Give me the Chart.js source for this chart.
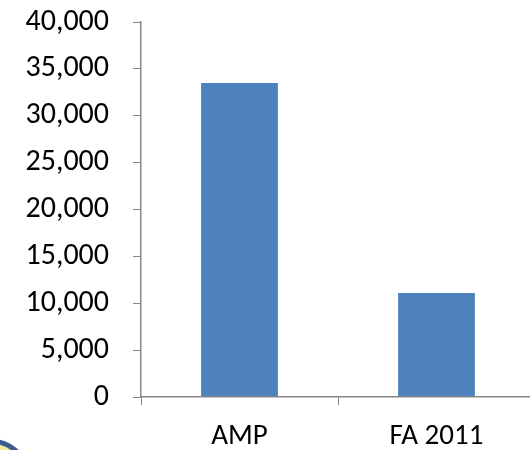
<!DOCTYPE html>
<html>
<head>
<meta charset="utf-8">
<script src="https://cdn.jsdelivr.net/npm/chart.js@4"></script>
<style>
  html, body { margin: 0; padding: 0; background: #fff; overflow: hidden; }
</style>
</head>
<body>
<canvas id="myChart" width="536" height="450"></canvas>
<script>
// chart data
var categories = ["AMP", "FA 2011"];
var values = [33600, 11200];
var yMin = 0, yMax = 40000, yStep = 5000;

var axisGray = "#868686";
var fontFamily = "Carlito, Calibri, 'Open Sans', sans-serif";

// little logo fragment in the bottom-left corner
var cornerLogo = {
  id: "cornerLogo",
  afterDraw: function(chart) {
    var c = chart.ctx;
    c.save();
    c.beginPath();
    c.arc(-10, 480, 39, 0, Math.PI * 2);
    c.fillStyle = "#f3ec9c";
    c.fill();
    c.lineWidth = 5;
    c.strokeStyle = "#3b5d8f";
    c.stroke();
    c.restore();
  }
};

var ctx = document.getElementById("myChart").getContext("2d");
var myChart = new Chart(ctx, {
  type: "bar",
  data: {
    labels: categories,
    datasets: [{
      data: values,
      backgroundColor: "#4f81bd",
      borderColor: "rgba(255,255,255,0.6)",
      borderWidth: 1,
      categoryPercentage: 1,
      barPercentage: 0.4
    }]
  },
  options: {
    responsive: false,
    animation: false,
    layout: { padding: { top: 22, right: 1, left: 0, bottom: 0 } },
    plugins: {
      legend: { display: false },
      tooltip: { enabled: false }
    },
    scales: {
      x: {
        grid: {
          offset: true,
          drawOnChartArea: false,
          tickLength: 8,
          color: axisGray
        },
        border: { color: axisGray, width: 1.5 },
        ticks: {
          color: "#000",
          padding: 14,
          font: { family: fontFamily, size: 29 }
        },
        afterFit: function(s) { s.height = 53; s.paddingLeft = 0; s.paddingRight = 0; }
      },
      y: {
        min: yMin,
        max: yMax,
        grid: {
          drawOnChartArea: false,
          tickLength: 8,
          color: axisGray
        },
        border: { color: axisGray, width: 1.5 },
        ticks: {
          stepSize: yStep,
          color: "#000",
          padding: 24,
          font: { family: fontFamily, size: 30 },
          callback: function(v) { return v.toLocaleString("en-US"); }
        },
        afterFit: function(s) { s.width = 141; s.paddingTop = 0; s.paddingBottom = 0; }
      }
    }
  },
  plugins: [cornerLogo]
});
</script>
</body>
</html>
